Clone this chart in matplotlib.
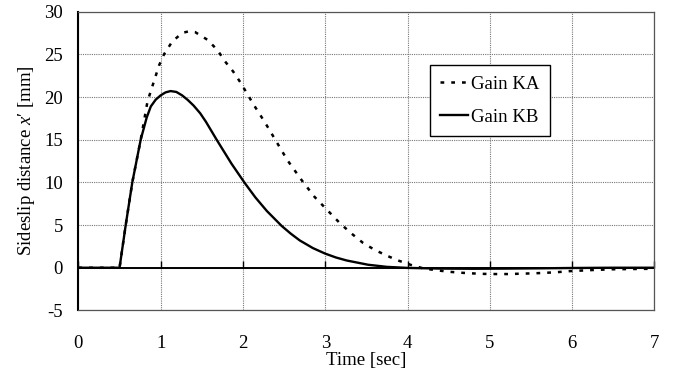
import matplotlib
matplotlib.use("Agg")
import matplotlib.pyplot as plt

# ---- data ----
t_ka = [0, 0.5, 0.575, 0.655, 0.757, 0.84, 0.91, 0.98, 1.04, 1.14, 1.26, 1.34, 1.42,
        1.57, 1.69, 1.78, 1.88, 1.97, 2.05, 2.13, 2.21, 2.30, 2.38, 2.54, 2.71, 2.87,
        3.06, 3.18, 3.32, 3.46, 3.60, 3.75, 3.90, 4.05, 4.19, 4.33, 4.50, 4.64, 4.78,
        4.92, 5.06, 5.22, 5.37, 5.52, 5.67, 5.82, 5.97, 6.12, 6.27, 6.5, 7.0]
x_ka = [0, 0, 5, 10, 15, 19.5, 21.6, 23.7, 25.0, 26.5, 27.5, 27.7, 27.6,
        26.7, 25.5, 24.2, 23.0, 21.7, 20.4, 19.1, 17.9, 16.5, 15.2, 12.6, 10.3, 8.3,
        6.4, 5.2, 4.0, 2.9, 2.1, 1.4, 0.8, 0.3, -0.07, -0.27, -0.47, -0.58, -0.66,
        -0.72, -0.74, -0.74, -0.70, -0.66, -0.60, -0.52, -0.40, -0.33, -0.26, -0.18, -0.12]

t_kb = [0, 0.5, 0.575, 0.655, 0.757, 0.83, 0.88, 0.94, 1.0, 1.06, 1.12, 1.19, 1.26,
        1.33, 1.40, 1.48, 1.55, 1.68, 1.86, 2.02, 2.15, 2.29, 2.47, 2.58, 2.69, 2.85,
        3.0, 3.13, 3.26, 3.52, 3.75, 4.0, 4.4, 4.8, 5.2, 5.6, 6.0, 6.5, 7.0]
x_kb = [0, 0, 5, 10, 15, 17.6, 18.9, 19.7, 20.2, 20.55, 20.7, 20.6, 20.2,
        19.65, 19.0, 18.1, 17.1, 15.0, 12.2, 9.95, 8.25, 6.65, 4.9, 4.0, 3.2, 2.3,
        1.65, 1.2, 0.85, 0.35, 0.1, -0.02, -0.1, -0.12, -0.10, -0.07, -0.03, 0, 0]

labels = ["Gain KA", "Gain KB"]
x_ticks = [0, 1, 2, 3, 4, 5, 6, 7]
y_ticks = [-5, 0, 5, 10, 15, 20, 25, 30]
y_ticklabels = ["-5", "0", "5", "10", "15", "20", "25", "30"]

plt.rcParams["font.family"] = ["Liberation Serif", "DejaVu Serif"]
plt.rcParams["mathtext.fontset"] = "custom"
plt.rcParams["mathtext.rm"] = "Liberation Serif"
plt.rcParams["mathtext.it"] = "Liberation Serif:italic"
plt.rcParams["axes.unicode_minus"] = False

fig = plt.figure(figsize=(6.85, 3.77), dpi=100)
ax = fig.add_axes([78.4 / 685, 66.6 / 377, 576 / 685, 298.7 / 377])

ax.set_xlim(0, 7)
ax.set_ylim(-5, 30)
ax.set_xticks(x_ticks)
ax.set_yticks(y_ticks)
ax.set_yticklabels(y_ticklabels)
ax.tick_params(axis="both", length=0, labelsize=13.5)
ax.tick_params(axis="x", pad=18)
ax.tick_params(axis="y", pad=11)

ax.grid(True, color="#777777", linestyle=(0, (1, 1)), linewidth=0.8)
ax.set_axisbelow(True)
for s in ["top", "right", "bottom"]:
    ax.spines[s].set_linestyle((0, (1, 1)))
    ax.spines[s].set_color("#555555")
    ax.spines[s].set_linewidth(0.9)
ax.spines["left"].set_linewidth(1.5)
ax.spines["left"].set_color("black")

ax.axhline(0, color="black", linewidth=1.4, zorder=2)
ax.plot(x_ticks, [0] * len(x_ticks), linestyle="none", marker=2, markersize=5,
        markeredgewidth=1.0, color="black", zorder=2, clip_on=False)

ax.plot(t_ka, x_ka, color="black", linewidth=1.8, linestyle=(0, (1.5, 2.8)),
        dash_capstyle="butt", label=labels[0], zorder=3)
ax.plot(t_kb, x_kb, color="black", linewidth=1.7, linestyle="-",
        label=labels[1], zorder=3)

leg = ax.legend(loc="upper left", bbox_to_anchor=(0.61, 0.82), fontsize=13.5,
                frameon=True, fancybox=False, edgecolor="black", framealpha=1,
                handlelength=1.5, handletextpad=0.15, labelspacing=0.85,
                borderpad=0.55, borderaxespad=0)
leg.get_frame().set_linewidth(1.0)

ax.set_xlabel("Time [sec]", fontsize=13.5, labelpad=0)
ax.set_ylabel("Sideslip distance $x$\u2032 [mm]", fontsize=13.5, labelpad=5)

fig.savefig("out.png", dpi=100)
